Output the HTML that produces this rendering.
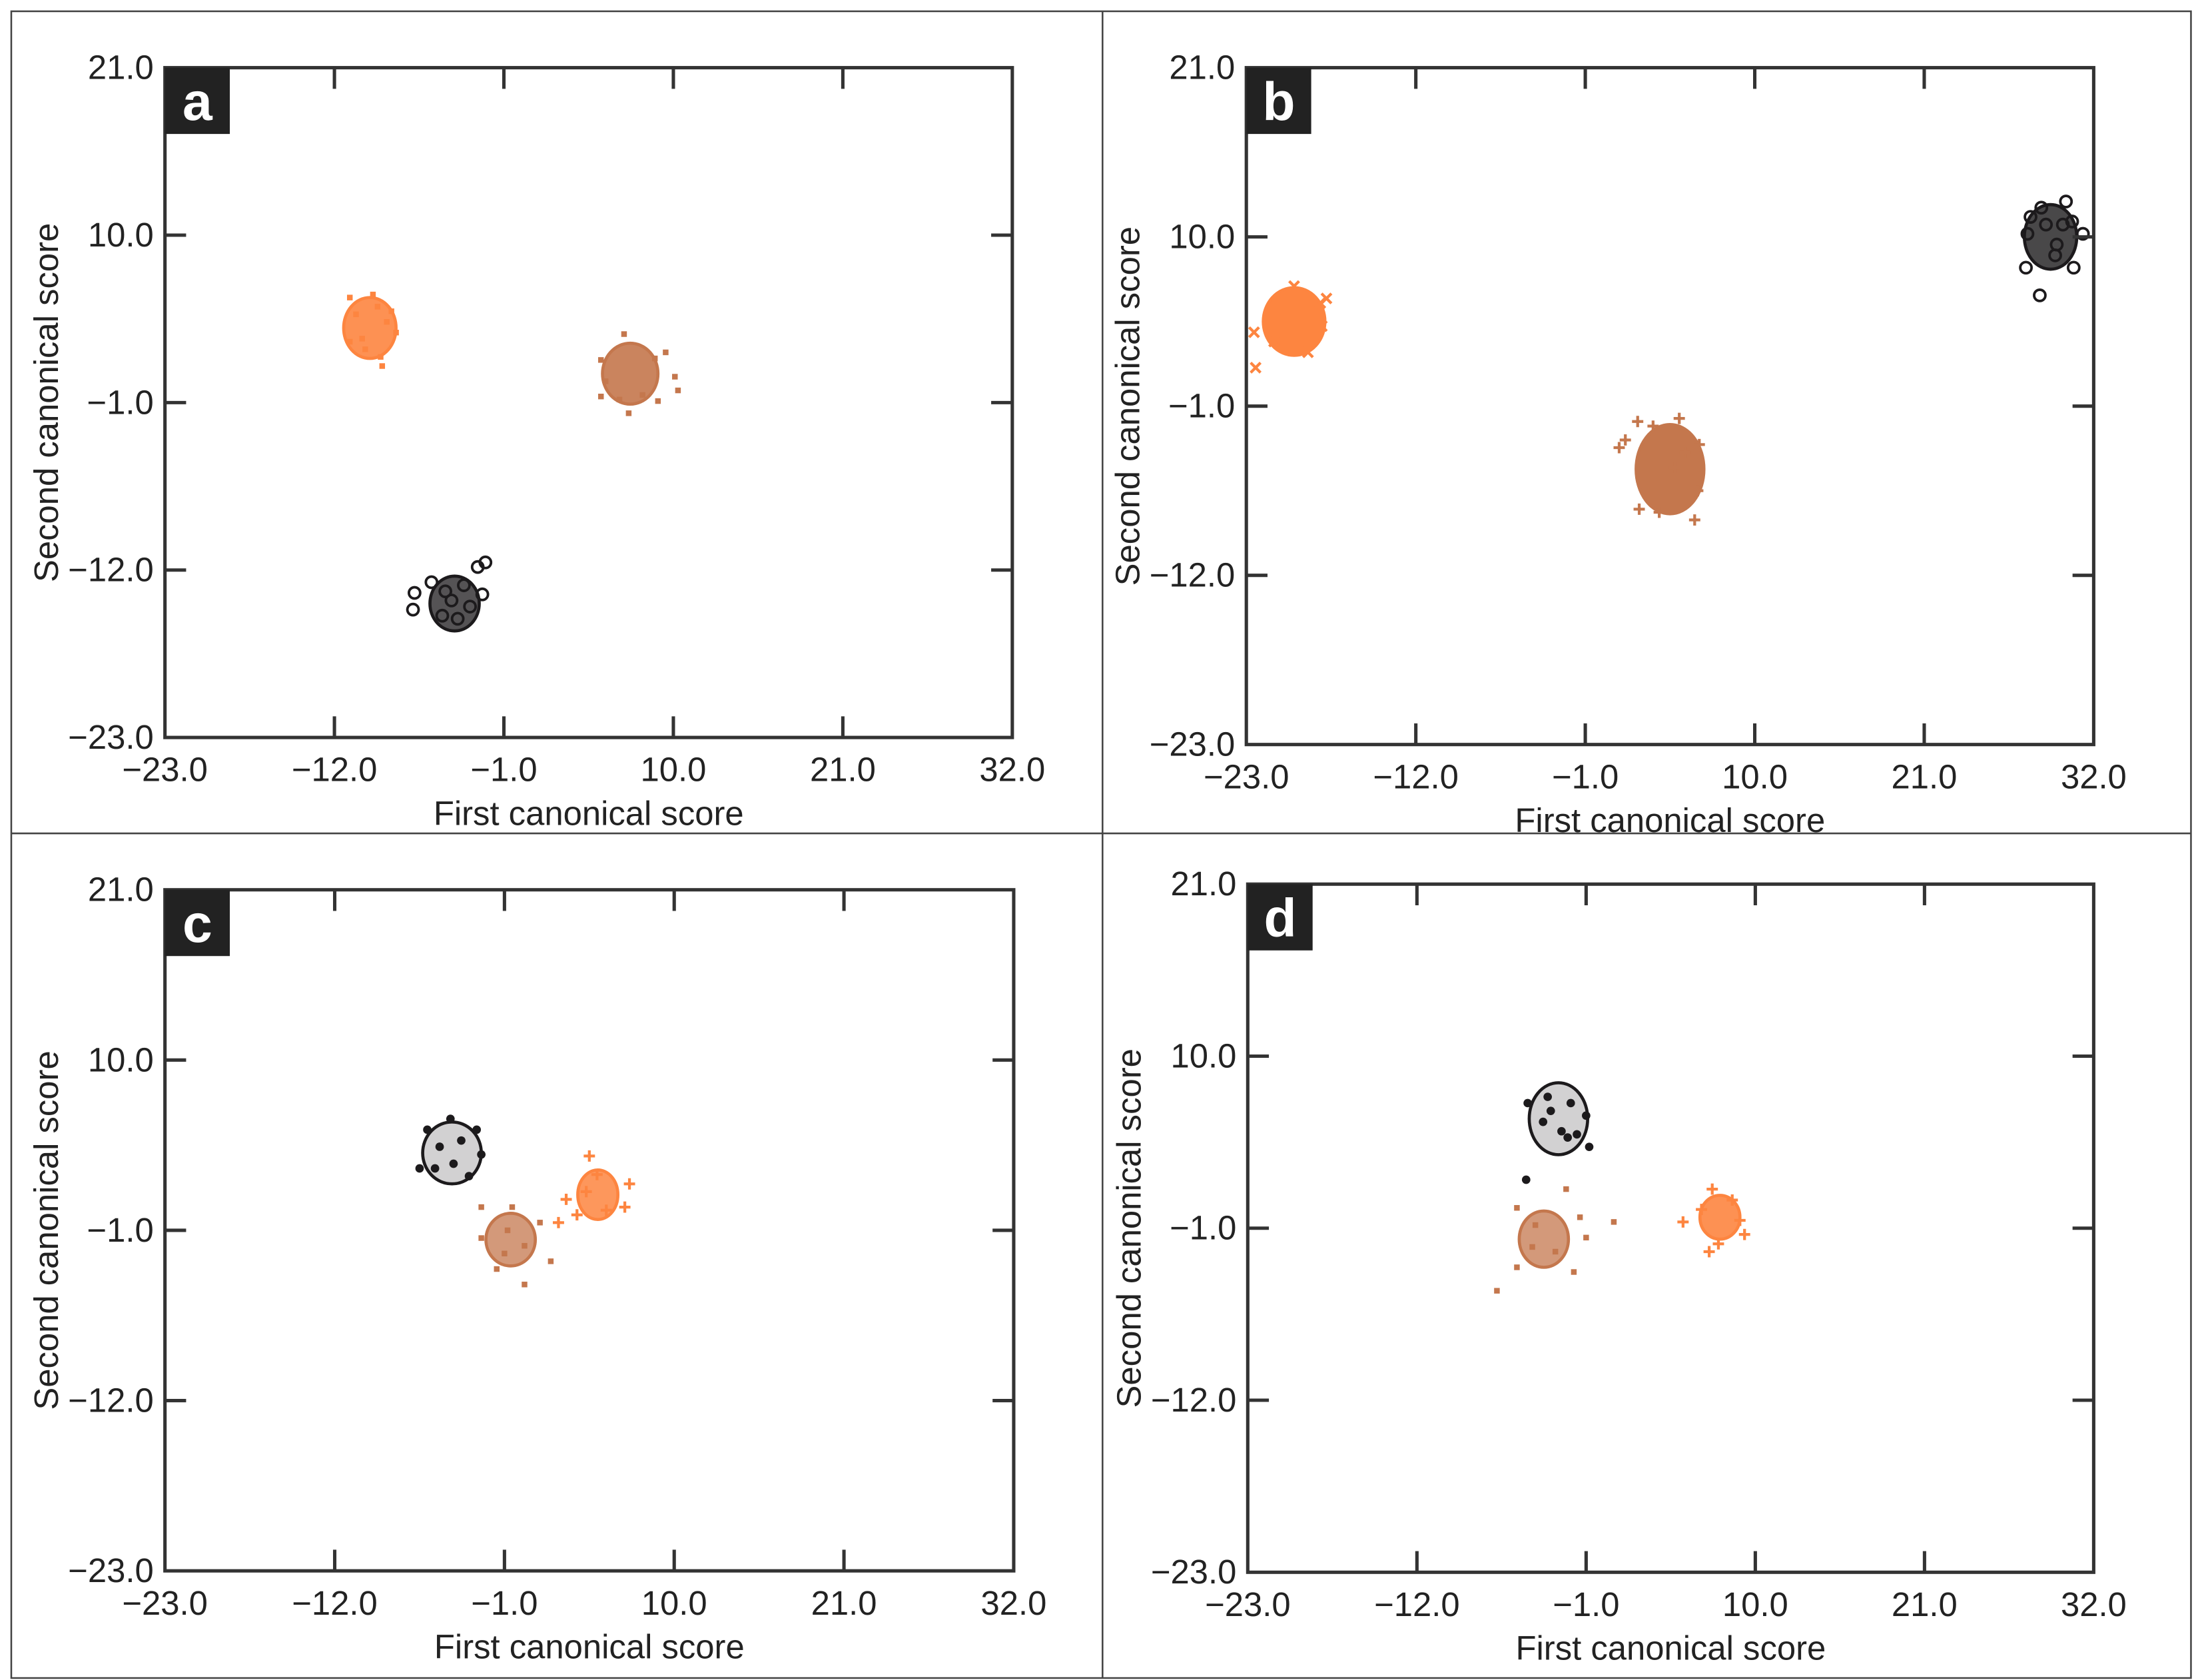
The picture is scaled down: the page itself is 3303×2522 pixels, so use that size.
<!DOCTYPE html>
<html><head><meta charset="utf-8"><style>
html,body{margin:0;padding:0;background:#fff;}
svg{display:block;}
text{font-family:"Liberation Sans",sans-serif;fill:#222;}
</style></head><body>
<svg id="fig" xmlns="http://www.w3.org/2000/svg" width="3303" height="2522" viewBox="0 0 1560.4 1191.4" preserveAspectRatio="none">
<rect x="8" y="8" width="1546" height="1182" fill="#fff" stroke="#444" stroke-width="1.2"/>
<line x1="782" y1="8" x2="782" y2="1190" stroke="#444" stroke-width="1.2"/>
<line x1="8" y1="591" x2="1554" y2="591" stroke="#444" stroke-width="1.2"/>
</svg>
<script>
// axis ticks
const xTicks = [-23, -12, -1, 10, 21, 32];
const yTicks = [21, 10, -1, -12, -23];
const xTickLabels = ["\u221223.0","\u221212.0","\u22121.0","10.0","21.0","32.0"];
const yTickLabels = ["21.0","10.0","\u22121.0","\u221212.0","\u221223.0"];

// panel a
const aCenterX = [-9.7, 7.2, -4.2];
const aCenterY = [3.9, 0.9, -14.2];
const aRadX = [1.7, 1.8, 1.6];
const aRadY = [2.0, 2.0, 1.8];
const aOrangeX = [-11.0,-9.5,-8.3,-8.0,-11.0,-9.0,-8.9,-10.0,-8.6,-10.6,-9.2,-10.2];
const aOrangeY = [5.9,6.1,5.0,3.6,3.0,2.0,1.4,2.5,4.3,4.8,5.3,3.2];
const aBrownX = [6.8,9.5,5.3,10.3,10.1,5.3,7.1,6.5,8.0,8.8,5.6,9.0];
const aBrownY = [3.5,2.3,1.8,-0.2,0.7,-0.6,-1.7,-0.8,-0.5,1.9,0.4,-0.9];
const aBlackX = [-2.7,-2.2,-5.7,-6.8,-6.9,-2.4,-3.2,-5.0,-4.0,-3.6,-4.8,-4.4];
const aBlackY = [-11.8,-11.5,-12.8,-13.5,-14.6,-13.6,-14.4,-15.0,-15.2,-13.0,-13.4,-14.0];

// panel b
const bCenterX = [-19.9, 4.5, 29.2];
const bCenterY = [4.5, -5.1, 10.0];
const bRadX = [2.0, 2.2, 1.7];
const bRadY = [2.2, 2.9, 2.1];
const bOrangeX = [-22.5,-21.2,-18.2,-17.8,-19.9,-18.1,-22.4,-20.6,-19.0,-20.5];
const bOrangeY = [3.8,3.2,5.7,6.0,6.8,4.2,1.5,5.5,2.5,3.0];
const bBrownX = [2.4,3.4,5.1,1.2,1.6,6.4,6.3,2.5,6.1,3.8,4.8,5.5];
const bBrownY = [-2.0,-2.3,-1.8,-3.7,-3.2,-3.5,-6.5,-7.7,-8.4,-7.9,-5.0,-4.0];
const bBlackX = [28.6,30.2,27.7,31.3,27.6,30.7,28.5,29.6,28.9,30.0,29.5,27.9,30.6];
const bBlackY = [11.9,12.3,10.2,10.2,8.0,8.0,6.2,9.5,10.8,10.8,8.8,11.3,11.0];

// panel c
const cCenterX = [5.05, -0.6, -4.4];
const cCenterY = [1.3, -1.6, 4.0];
const cRadX = [1.3, 1.6, 1.9];
const cRadY = [1.6, 1.7, 2.0];
const cOrangeX = [4.5,3.0,2.5,7.1,6.8,3.7,5.0,5.6,4.3];
const cOrangeY = [3.8,1.0,-0.5,2.0,0.5,0.0,2.6,0.3,1.5];
const cBrownX = [-2.5,0.3,2.0,-1.5,-2.5,1.3,-0.8,0.3,-1.0,-0.5];
const cBrownY = [0.5,-4.5,-3.0,-3.5,-1.5,-0.5,-1.0,-2.0,-2.5,0.5];
const cBlackX = [-4.5,-2.8,-6.5,-6.0,-2.5,-3.3,-5.2,-3.8,-4.3,-5.5];
const cBlackY = [6.2,5.5,3.0,5.5,3.9,2.5,4.4,4.8,3.3,3.0];

// panel d
const dCenterX = [7.7, -3.75, -2.8];
const dCenterY = [-0.3, -1.7, 6.0];
const dRadX = [1.3, 1.6, 1.9];
const dRadY = [1.4, 1.8, 2.3];
const dOrangeX = [7.2,5.3,9.3,7.0,8.5,6.5,9.0,7.6];
const dOrangeY = [1.5,-0.6,-1.4,-2.5,0.8,0.2,-0.5,-2.0];
const dBrownX = [-2.3,-5.5,-1.0,-1.4,-5.5,-1.8,-6.8,0.8,-4.3,-3.0,-4.5];
const dBrownY = [1.5,0.3,-1.6,-0.3,-3.5,-3.8,-5.0,-0.6,-0.8,-2.5,-2.2];
const dBlackX = [-4.8,-3.5,-1.0,-0.8,-4.9,-1.6,-3.3,-2.0,-2.6,-3.8,-2.2];
const dBlackY = [7.0,7.4,6.2,4.2,2.1,5.0,6.5,7.0,5.2,5.8,4.8];

const NS = "http://www.w3.org/2000/svg";
const svg = document.getElementById("fig");
const ORANGE = "#fd8540", BROWN = "#c4774d", BLACK = "#1c1a1c";

function mk(tag, attrs, parent) {
  const e = document.createElementNS(NS, tag);
  for (const k in attrs) e.setAttribute(k, attrs[k]);
  (parent || svg).appendChild(e);
  return e;
}

function drawPanel(p) {
  const g = mk("g", {});
  
  
  const sx = v => p.x0 + (v + 23) / 55 * (p.x1 - p.x0);
  const sy = v => p.y1 - (v + 23) / 44 * (p.y1 - p.y0);

  p.clusters.forEach((c, i) => {
    const cx = sx(p.cx[i]), cy = sy(p.cy[i]);
    const rx = p.rx[i] * (p.x1 - p.x0) / 55, ry = p.ry[i] * (p.y1 - p.y0) / 44;
    const core = mk("ellipse", {cx, cy, rx, ry, fill: c.color, "fill-opacity": c.op, stroke: c.color, "stroke-width": 2.2}, g);
    
    
    c.xs.forEach((xv, j) => {
      const px = sx(xv), py = sy(c.ys[j]);
      let m;
      if (c.marker === "circle") m = mk("circle", {cx: px, cy: py, r: 4, fill: "none", stroke: c.color, "stroke-width": 1.8}, g);
      else if (c.marker === "dot") m = mk("circle", {cx: px, cy: py, r: 3, fill: c.color}, g);
      else if (c.marker === "x") m = mk("path", {d: `M${px-3.5},${py-3.5}L${px+3.5},${py+3.5}M${px+3.5},${py-3.5}L${px-3.5},${py+3.5}`, stroke: c.color, "stroke-width": 2}, g);
      else if (c.marker === "plus") m = mk("path", {d: `M${px-4},${py}L${px+4},${py}M${px},${py-4}L${px},${py+4}`, stroke: c.color, "stroke-width": 2}, g);
      else m = mk("rect", {x: px - 2, y: py - 2, width: 4, height: 4, fill: c.color}, g);
      
      
    });
  });

  const frame = mk("rect", {x: p.x0, y: p.y0, width: p.x1 - p.x0, height: p.y1 - p.y0, fill: "none", stroke: "#333", "stroke-width": 2.4}, g);
  
  

  xTicks.forEach((t, i) => {
    const x = sx(t);
    if (i > 0 && i < xTicks.length - 1) {
      const tb = mk("line", {x1: x, y1: p.y1, x2: x, y2: p.y1 - 15, stroke: "#333", "stroke-width": 2.4}, g);
      
      
      const tt = mk("line", {x1: x, y1: p.y0, x2: x, y2: p.y0 + 15, stroke: "#333", "stroke-width": 2.4}, g);
      
      
    }
    const lb = mk("text", {x: x, y: p.y1 + 31, "text-anchor": "middle", "font-size": 24}, g);
    lb.textContent = xTickLabels[i];
    
    
  });
  yTicks.forEach((t, i) => {
    const y = sy(t);
    if (i > 0 && i < yTicks.length - 1) {
      const tl = mk("line", {x1: p.x0, y1: y, x2: p.x0 + 15, y2: y, stroke: "#333", "stroke-width": 2.4}, g);
      
      
      const tr = mk("line", {x1: p.x1, y1: y, x2: p.x1 - 15, y2: y, stroke: "#333", "stroke-width": 2.4}, g);
      
      
    }
    const lb = mk("text", {x: p.x0 - 8, y: y + 8, "text-anchor": "end", "font-size": 24}, g);
    lb.textContent = yTickLabels[i];
    
    
  });

  const xt = mk("text", {x: (p.x0 + p.x1) / 2, y: p.y1 + 62, "text-anchor": "middle", "font-size": 24}, g);
  xt.textContent = "First canonical score";
  
  
  const ymid = (p.y0 + p.y1) / 2;
  const yt = mk("text", {x: p.x0 - 76, y: ymid, "text-anchor": "middle", "font-size": 24, transform: `rotate(-90 ${p.x0 - 76} ${ymid})`}, g);
  yt.textContent = "Second canonical score";
  
  

  const box = mk("rect", {x: p.x0, y: p.y0, width: 46, height: 47, fill: "#222"}, g);
  
  
  const lt = mk("text", {x: p.x0 + 23, y: p.y0 + 37, "text-anchor": "middle", "font-size": 38, "font-weight": "bold"}, g);
  lt.style.fill = "#fff";
  lt.textContent = p.label;
  
  
}

drawPanel({label: "a", x0: 117, x1: 718, y0: 48, y1: 523, cx: aCenterX, cy: aCenterY, rx: aRadX, ry: aRadY,
  clusters: [{name: "orange", color: ORANGE, marker: "square", op: 0.9, xs: aOrangeX, ys: aOrangeY},
             {name: "brown", color: BROWN, marker: "square", op: 0.9, xs: aBrownX, ys: aBrownY},
             {name: "black", color: BLACK, marker: "circle", op: 0.75, xs: aBlackX, ys: aBlackY}]});
drawPanel({label: "b", x0: 884, x1: 1485, y0: 48, y1: 528, cx: bCenterX, cy: bCenterY, rx: bRadX, ry: bRadY,
  clusters: [{name: "orange", color: ORANGE, marker: "x", op: 1, xs: bOrangeX, ys: bOrangeY},
             {name: "brown", color: BROWN, marker: "plus", op: 1, xs: bBrownX, ys: bBrownY},
             {name: "black", color: BLACK, marker: "circle", op: 0.8, xs: bBlackX, ys: bBlackY}]});
drawPanel({label: "c", x0: 117, x1: 719, y0: 631, y1: 1114, cx: cCenterX, cy: cCenterY, rx: cRadX, ry: cRadY,
  clusters: [{name: "orange", color: ORANGE, marker: "plus", op: 0.85, xs: cOrangeX, ys: cOrangeY},
             {name: "brown", color: BROWN, marker: "square", op: 0.75, xs: cBrownX, ys: cBrownY},
             {name: "black", color: BLACK, marker: "dot", op: 0.2, xs: cBlackX, ys: cBlackY}]});
drawPanel({label: "d", x0: 885, x1: 1485, y0: 627, y1: 1115, cx: dCenterX, cy: dCenterY, rx: dRadX, ry: dRadY,
  clusters: [{name: "orange", color: ORANGE, marker: "plus", op: 0.9, xs: dOrangeX, ys: dOrangeY},
             {name: "brown", color: BROWN, marker: "square", op: 0.75, xs: dBrownX, ys: dBrownY},
             {name: "black", color: BLACK, marker: "dot", op: 0.2, xs: dBlackX, ys: dBlackY}]});
</script>
</body></html>
